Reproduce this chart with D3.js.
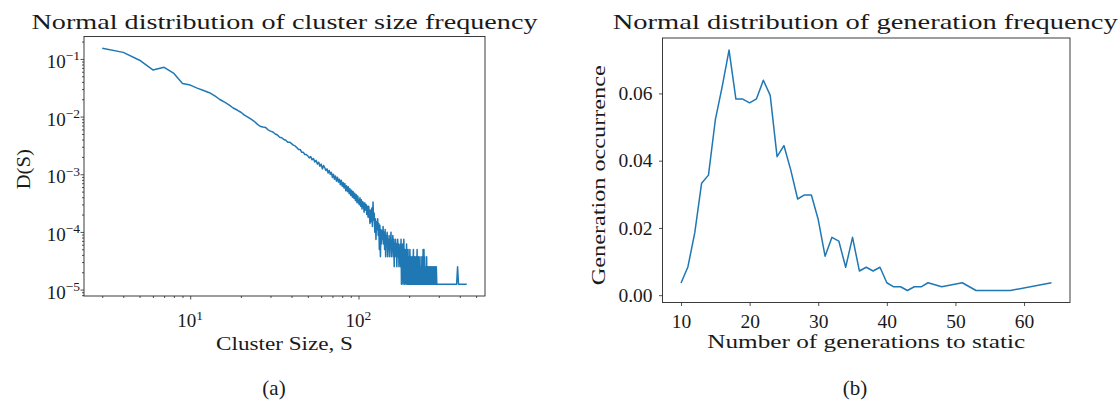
<!DOCTYPE html>
<html><head><meta charset="utf-8">
<script src="https://cdn.jsdelivr.net/npm/d3@7"></script>
<style>
body{margin:0;background:#fff}
svg{display:block}
text{font-family:"Liberation Serif","Times New Roman",serif;fill:#1a1a1a}
</style>
</head><body>
<svg id="chart" width="1120" height="404"></svg>
<script>
// ---------- data ----------
const clusterSizes = [3,4,5,6,7,8,9,10,11,12,13,14,15,16,17,18,19,20,21,22,23,24,25,26,27,28,29,30,
31,32,33,34,35,36,37,38,39,40,41,42,43,44,45,46,47,48,49,50,51,52,53,54,55,56,57,58,59,60,
61,62,63,64,65,66,67,68,69,70,71,72,73,74,75,76,77,78,79,80,81,82,83,84,85,86,87,88,89,90,
91,92,93,94,95,96,97,98,99,100,101,102,103,104,105,106,107,108,109,110,111,112,113,114,115,116,117,118,119,120,
121,122,123,124,125,126,127,128,129,130,131,132,133,134,135,136,137,138,139,140,141,142,143,144,145,146,147,148,149,150,
151,152,153,154,155,156,157,158,159,160,161,162,163,164,165,166,167,168,169,170,171,172,173,174,175,176,177,178,179,180,
181,182,183,184,185,186,187,188,189,190,191,192,193,194,195,196,197,198,199,200,201,202,203,204,205,206,207,208,209,210,
211,212,213,214,215,216,217,218,219,220,221,222,223,224,225,226,227,228,229,230,231,232,233,234,235,236,237,238,239,240,
241,242,243,244,245,246,247,248,249,250,251,252,253,254,255,256,257,258,259,260,261,262,263,264,265,266,267,268,270,271,
272,274,275,276,278,279,281,282,284,286,287,289,290,292,295,301,312,326,345,368,383,388,393,440];

const clusterFreq = [0.153,0.130,0.095,0.0645,0.0715,0.056,0.0375,0.0352,0.0312,0.0283,0.0260,0.0228,0.0198,0.0178,0.0160,0.0141,0.0130,0.0119,0.0106,0.0098,0.0090,0.0083,0.0074,0.0068,0.0066,0.0065,0.0059,0.0056,
0.0054,0.0050,0.0048,0.0044,0.0043,0.0040,0.0039,0.0036,0.0036,0.0034,0.0032,0.0031,0.0029,0.0027,0.0027,0.0024,0.0024,0.0022,0.0022,2.08e-3,1.92e-3,2.02e-3,1.78e-3,1.88e-3,1.64e-3,1.74e-3,1.50e-3,1.62e-3,1.38e-3,1.50e-3,
1.24e-3,1.42e-3,1.30e-3,1.16e-3,1.24e-3,1.05e-3,1.16e-3,1.00e-3,1.08e-3,8.8e-4,1.00e-3,8.2e-4,9.3e-4,7.6e-4,8.9e-4,7.3e-4,8.2e-4,6.6e-4,7.9e-4,6.2e-4,7.2e-4,5.8e-4,6.9e-4,5.2e-4,6.3e-4,5.0e-4,6.1e-4,4.6e-4,5.6e-4,4.3e-4,
5.3e-4,4.0e-4,5.0e-4,3.8e-4,4.7e-4,3.5e-4,4.4e-4,3.2e-4,4.2e-4,3.3e-4,3.0e-4,3.9e-4,2.8e-4,3.6e-4,2.5e-4,3.35e-4,3.1e-4,2.2e-4,3.2e-4,2.4e-4,3.0e-4,2.0e-4,2.8e-4,1.8e-4,2.8e-4,2.0e-4,1.4e-4,2.4e-4,1.5e-4,2.6e-4,
1.24e-4,3.3e-4,1.6e-4,2.1e-4,9.9e-5,1.7e-4,7.4e-5,1.5e-4,1.1e-4,1.7e-4,8.7e-5,1.4e-4,4.96e-5,1.3e-4,3.72e-5,1.1e-4,6.2e-5,1.05e-4,7.4e-5,1.24e-4,6.2e-5,9.9e-5,4.96e-5,1.1e-4,3.72e-5,8.7e-5,6.2e-5,9.9e-5,3.72e-5,7.4e-5,
4.96e-5,8.68e-5,3.72e-5,7.44e-5,6.2e-5,9.92e-5,3.72e-5,6.2e-5,4.96e-5,8.68e-5,3.72e-5,7.44e-5,2.48e-5,6.2e-5,4.96e-5,7.44e-5,3.72e-5,6.2e-5,2.48e-5,4.96e-5,7.44e-5,3.72e-5,6.2e-5,2.48e-5,4.96e-5,3.72e-5,6.2e-5,2.48e-5,7.44e-5,1.24e-5,
4.96e-5,2.48e-5,6.2e-5,1.24e-5,3.72e-5,7.44e-5,2.48e-5,1.24e-5,4.96e-5,2.48e-5,3.72e-5,1.24e-5,6.2e-5,2.48e-5,1.24e-5,3.72e-5,4.96e-5,1.24e-5,2.48e-5,3.72e-5,1.24e-5,4.96e-5,2.48e-5,1.24e-5,3.72e-5,1.24e-5,2.48e-5,1.24e-5,3.72e-5,1.24e-5,
2.48e-5,4.96e-5,1.24e-5,2.48e-5,1.24e-5,3.72e-5,1.24e-5,2.48e-5,1.24e-5,3.72e-5,1.24e-5,2.48e-5,4.96e-5,1.24e-5,2.48e-5,1.24e-5,3.72e-5,1.24e-5,2.48e-5,1.24e-5,1.24e-5,3.72e-5,1.24e-5,2.48e-5,1.24e-5,2.48e-5,1.24e-5,3.72e-5,1.24e-5,2.48e-5,
1.24e-5,4.96e-5,1.24e-5,2.48e-5,4.96e-5,1.24e-5,3.72e-5,1.24e-5,2.48e-5,1.24e-5,1.24e-5,2.48e-5,1.24e-5,3.72e-5,1.24e-5,1.24e-5,2.48e-5,1.24e-5,2.48e-5,1.24e-5,1.24e-5,2.48e-5,1.24e-5,1.24e-5,2.48e-5,1.24e-5,1.24e-5,2.48e-5,1.24e-5,2.48e-5,
1.24e-5,1.24e-5,2.48e-5,1.24e-5,1.24e-5,2.48e-5,1.24e-5,2.48e-5,1.24e-5,2.48e-5,1.24e-5,1.24e-5,2.48e-5,1.24e-5,1.24e-5,1.24e-5,1.24e-5,1.24e-5,1.24e-5,1.24e-5,1.24e-5,2.48e-5,1.24e-5,1.24e-5];

const generations = [10,11,12,13,14,15,16,17,18,19,20,21,22,23,24,25,26,27,28,29,30,31,32,33,34,35,36,37,38,39,40,41,42,43,44,45,46,48,51,53,58,64];
const generationFreq = [0.0036,0.0084,0.0185,0.0333,0.0357,0.0521,0.0620,0.0729,0.0583,0.0583,0.0572,0.0584,0.0639,0.0594,0.0412,0.0445,0.0372,0.0286,0.0298,0.0298,
0.0225,0.0116,0.0172,0.0161,0.0083,0.0172,0.0072,0.0083,0.0072,0.0083,0.0037,0.0025,0.0025,0.0014,0.0025,0.0025,0.0037,0.0025,0.0037,0.0014,0.0014,0.0037];

const logXTicks = [10, 100];
const logYTicks = [1e-5, 1e-4, 1e-3, 1e-2, 1e-1];
const genXTicks = [10, 20, 30, 40, 50, 60];
const genYTicks = [0.00, 0.02, 0.04, 0.06];

const titles = ["Normal distribution of cluster size frequency", "Normal distribution of generation frequency"];
const xLabels = ["Cluster Size, S", "Number of generations to static"];
const yLabels = ["D(S)", "Generation occurrence"];
const captions = ["(a)", "(b)"];

// ---------- drawing ----------
const svg = d3.select("#chart");
const LINE = "#1f77b4", AX = "#262626";

function fitText(sel, w) {
  sel.attr("textLength", w).attr("lengthAdjust", "spacingAndGlyphs");
}
function margin(lo, hi, f) { const p = (hi - lo) * f; return [lo - p, hi + p]; }

// ---- Panel A ----
const A = {l: 84, r: 485, t: 36.5, b: 296};
const dA = clusterSizes.map((s, i) => ({s, f: clusterFreq[i]}));
const lxA = margin(...d3.extent(clusterSizes).map(Math.log10), 0.05);
const lyA = margin(...d3.extent(clusterFreq).map(Math.log10), 0.05);
const xA = d3.scaleLog().domain(lxA.map(v => 10 ** v)).range([A.l, A.r]);
const yA = d3.scaleLog().domain(lyA.map(v => 10 ** v)).range([A.b, A.t]);

const gA = svg.append("g");
const isPow = v => Math.abs(Math.log10(v) - Math.round(Math.log10(v))) < 1e-9;
const xMinorA = xA.ticks().filter(v => !isPow(v) && v >= xA.domain()[0] && v <= xA.domain()[1]);
const yMinorA = yA.ticks().filter(v => !isPow(v) && v >= yA.domain()[0] && v <= yA.domain()[1]);

function styleAxis(g) {
  g.attr("font-family", null);
  g.select(".domain").remove();
  g.selectAll(".tick line").attr("stroke", AX).attr("stroke-width", 0.8);
  g.selectAll(".tick text").remove();
}
gA.append("g").attr("transform", `translate(0,${A.b})`)
  .call(d3.axisBottom(xA).tickValues(logXTicks).tickSize(3.5)).call(styleAxis);
gA.append("g").attr("transform", `translate(0,${A.b})`)
  .call(d3.axisBottom(xA).tickValues(xMinorA).tickSize(2)).call(styleAxis);
gA.append("g").attr("transform", `translate(${A.l},0)`)
  .call(d3.axisLeft(yA).tickValues(logYTicks).tickSize(3.5)).call(styleAxis);
gA.append("g").attr("transform", `translate(${A.l},0)`)
  .call(d3.axisLeft(yA).tickValues(yMinorA).tickSize(2)).call(styleAxis);

// log tick labels
logXTicks.forEach(v => {
  const t = gA.append("text").attr("x", xA(v)).attr("y", A.b + 31).attr("text-anchor", "middle").attr("font-size", 19);
  t.append("tspan").text("10");
  t.append("tspan").attr("dy", -7.5).attr("font-size", 13.5).text(Math.round(Math.log10(v)));
});
logYTicks.forEach(v => {
  const t = gA.append("text").attr("x", A.l - 4).attr("y", yA(v) + 9).attr("text-anchor", "end").attr("font-size", 19);
  t.append("tspan").text("10");
  t.append("tspan").attr("dy", -7.5).attr("font-size", 13.5).text("\u2212" + Math.abs(Math.round(Math.log10(v))));
});

gA.append("path").datum(dA)
  .attr("fill", "none").attr("stroke", LINE).attr("stroke-width", 1.5).attr("stroke-linejoin", "round")
  .attr("d", d3.line().x(d => xA(d.s)).y(d => yA(d.f)));

gA.append("rect").attr("x", A.l).attr("y", A.t).attr("width", A.r - A.l).attr("height", A.b - A.t)
  .attr("fill", "none").attr("stroke", AX).attr("stroke-width", 0.9);

gA.append("text").attr("x", (A.l + A.r) / 2).attr("y", 29).attr("text-anchor", "middle").attr("font-size", 22)
  .text(titles[0]).call(fitText, 506);
gA.append("text").attr("x", (A.l + A.r) / 2).attr("y", 350).attr("text-anchor", "middle").attr("font-size", 19.5)
  .text(xLabels[0]).call(fitText, 137);
gA.append("text").attr("transform", `translate(30,${(A.t + A.b) / 2 + 3}) rotate(-90)`).attr("text-anchor", "middle").attr("font-size", 19.5)
  .text(yLabels[0]).call(fitText, 40);
gA.append("text").attr("x", 274).attr("y", 395).attr("text-anchor", "middle").attr("font-size", 21).text(captions[0]);

// ---- Panel B ----
const B = {l: 662.5, r: 1070, t: 38, b: 302.5};
const dB = generations.map((g, i) => ({g, f: generationFreq[i]}));
const xB = d3.scaleLinear().domain(margin(...d3.extent(generations), 0.05)).range([B.l, B.r]);
const yB = d3.scaleLinear().domain(margin(...d3.extent(generationFreq), 0.05)).range([B.b, B.t]);
const gB = svg.append("g");

const axB = gB.append("g").attr("transform", `translate(0,${B.b})`)
  .call(d3.axisBottom(xB).tickValues(genXTicks).tickSize(3.5).tickPadding(6).tickFormat(d3.format("d")));
axB.attr("font-family", null).attr("font-size", null);
axB.select(".domain").remove();
axB.selectAll(".tick line").attr("stroke", AX).attr("stroke-width", 0.8);
axB.selectAll(".tick text").attr("font-size", 19.5).attr("fill", "#1a1a1a").attr("dy", null).attr("y", 25);

const ayB = gB.append("g").attr("transform", `translate(${B.l},0)`)
  .call(d3.axisLeft(yB).tickValues(genYTicks).tickSize(3.5).tickPadding(6).tickFormat(d3.format(".2f")));
ayB.attr("font-family", null).attr("font-size", null);
ayB.select(".domain").remove();
ayB.selectAll(".tick line").attr("stroke", AX).attr("stroke-width", 0.8);
ayB.selectAll(".tick text").attr("font-size", 19.5).attr("fill", "#1a1a1a").attr("x", -10);

gB.append("path").datum(dB)
  .attr("fill", "none").attr("stroke", LINE).attr("stroke-width", 1.5).attr("stroke-linejoin", "round")
  .attr("d", d3.line().x(d => xB(d.g)).y(d => yB(d.f)));

gB.append("rect").attr("x", B.l).attr("y", B.t).attr("width", B.r - B.l).attr("height", B.b - B.t)
  .attr("fill", "none").attr("stroke", AX).attr("stroke-width", 0.9);

gB.append("text").attr("x", (B.l + B.r) / 2 - 1).attr("y", 29).attr("text-anchor", "middle").attr("font-size", 22)
  .text(titles[1]).call(fitText, 505);
gB.append("text").attr("x", (B.l + B.r) / 2).attr("y", 348).attr("text-anchor", "middle").attr("font-size", 19.5)
  .text(xLabels[1]).call(fitText, 318);
gB.append("text").attr("transform", `translate(605,${(B.t + B.b) / 2 + 5}) rotate(-90)`).attr("text-anchor", "middle").attr("font-size", 19.5)
  .text(yLabels[1]).call(fitText, 220);
gB.append("text").attr("x", 855).attr("y", 395).attr("text-anchor", "middle").attr("font-size", 21).text(captions[1]);
</script>
</body></html>
